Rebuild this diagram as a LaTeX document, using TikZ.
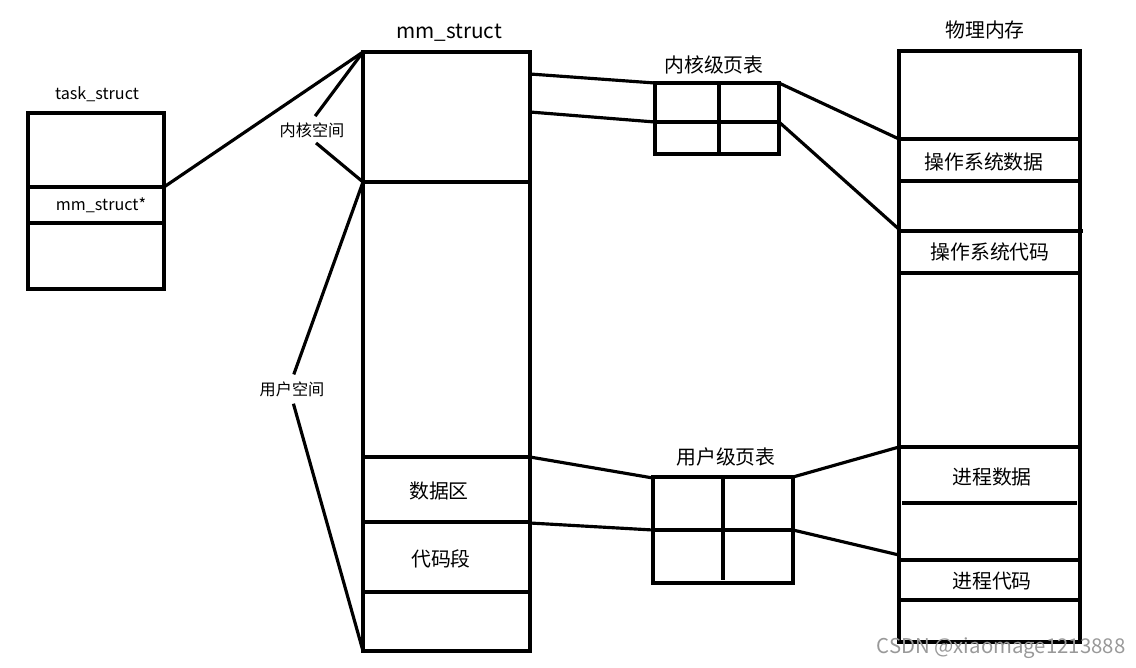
\documentclass[tikz,border=0pt]{standalone}
\usepackage{fontspec}
\setmainfont{Noto Sans CJK SC}
\usetikzlibrary{positioning}

\begin{document}
\begin{tikzpicture}[x=0.02cm, y=-0.02cm,
  box/.style={line width=1.9pt},
  link/.style={line width=1.8pt},
  cn/.style={font=\fontsize{11.3}{13}\selectfont, inner sep=1pt},
  title/.style={font=\fontsize{11.8}{14}\selectfont, inner sep=1pt},
  small/.style={font=\fontsize{9.2}{11}\selectfont, inner sep=1pt},
  watermark/.style={font=\fontsize{11.6}{14}\selectfont, text=black!40, inner sep=0pt}]
\useasboundingbox (0,0) rectangle (1136,667);
% task_struct
\draw[box] (28,113) rectangle (164,289);
\foreach \y in {187,223} \draw[box] (28,\y) -- (164,\y);
\node[small] (tasktitle) at (97,94) {task\_struct};
\node[small] (taskptr) at (101,205) {mm\_struct*};
\coordinate (tsptr) at (164,187);
% mm_struct
\draw[box] (363,52) rectangle (530,651);
\foreach \y in {182,457,522,592} \draw[box] (363,\y) -- (530,\y);
\node[title] (mmtitle) at (449,33) {mm\_struct};
\node[cn] (mmdata) at (439,491) {数据区};
\node[cn] (mmcode) at (441,559) {代码段};
\coordinate (mmtop) at (363,52);
\coordinate (mmmid) at (363,182);
\coordinate (mmbot) at (363,651);
\coordinate (mmk1) at (530,74);
\coordinate (mmk2) at (530,112);
\coordinate (mmu1) at (530,457);
\coordinate (mmu2) at (530,523);
% kernel / user space
\node[small] (kspace) at (312,130) {内核空间};
\node[small] (uspace) at (292,389) {用户空间};
% kernel page table
\draw[box] (655,83) rectangle (779,154);
\draw[box] (719,83) -- (719,154) (655,122) -- (779,122);
\node[cn] (kpttitle) at (714,65) {内核级页表};
\coordinate (kptl1) at (655,83);
\coordinate (kptl2) at (655,122);
\coordinate (kptr1) at (779,83);
\coordinate (kptr2) at (779,122);
% user page table
\draw[box] (653,477) rectangle (793,583);
\draw[box] (723,477) -- (723,580) (653,530) -- (793,530);
\node[cn] (upttitle) at (726,457) {用户级页表};
\coordinate (uptl1) at (653,478);
\coordinate (uptl2) at (653,530);
\coordinate (uptr1) at (793,477);
\coordinate (uptr2) at (793,530);
% physical memory
\draw[box] (899,51) rectangle (1080,642);
\foreach \y in {139,181,273,447,560,600} \draw[box] (899,\y) -- (1080,\y);
\draw[box] (899,231) -- (1083,231);
\draw[box] (902,503) -- (1077,503);
\node[cn] (pmtitle) at (985,30) {物理内存};
\node[cn] (pmosd) at (984,162) {操作系统数据};
\node[cn] (pmosc) at (990,252) {操作系统代码};
\node[cn] (pmpd) at (992,477) {进程数据};
\node[cn] (pmpc) at (992,581) {进程代码};
\coordinate (pmk1) at (899,139);
\coordinate (pmk2) at (901,231);
\coordinate (pmu1) at (899,447);
\coordinate (pmu2) at (899,555);
% connectors
\draw[link] (tsptr) -- (mmtop);
\draw[link, shorten >=3pt] (mmtop) -- (kspace.north);
\draw[link, shorten <=3pt] (kspace.south) -- (mmmid);
\draw[link, shorten >=3pt] (mmmid) -- (uspace.north);
\draw[link, shorten <=3pt] (uspace.south) -- (mmbot);
\draw[link] (mmk1) -- (kptl1);
\draw[link] (mmk2) -- (kptl2);
\draw[link] (kptr1) -- (pmk1);
\draw[link] (kptr2) -- (pmk2);
\draw[link] (mmu1) -- (uptl1);
\draw[link] (mmu2) -- (uptl2);
\draw[link] (uptr1) -- (pmu1);
\draw[link] (uptr2) -- (pmu2);
\node[watermark] (csdn) at (1001,648) {CSDN @xiaomage1213888};
\end{tikzpicture}
\end{document}
